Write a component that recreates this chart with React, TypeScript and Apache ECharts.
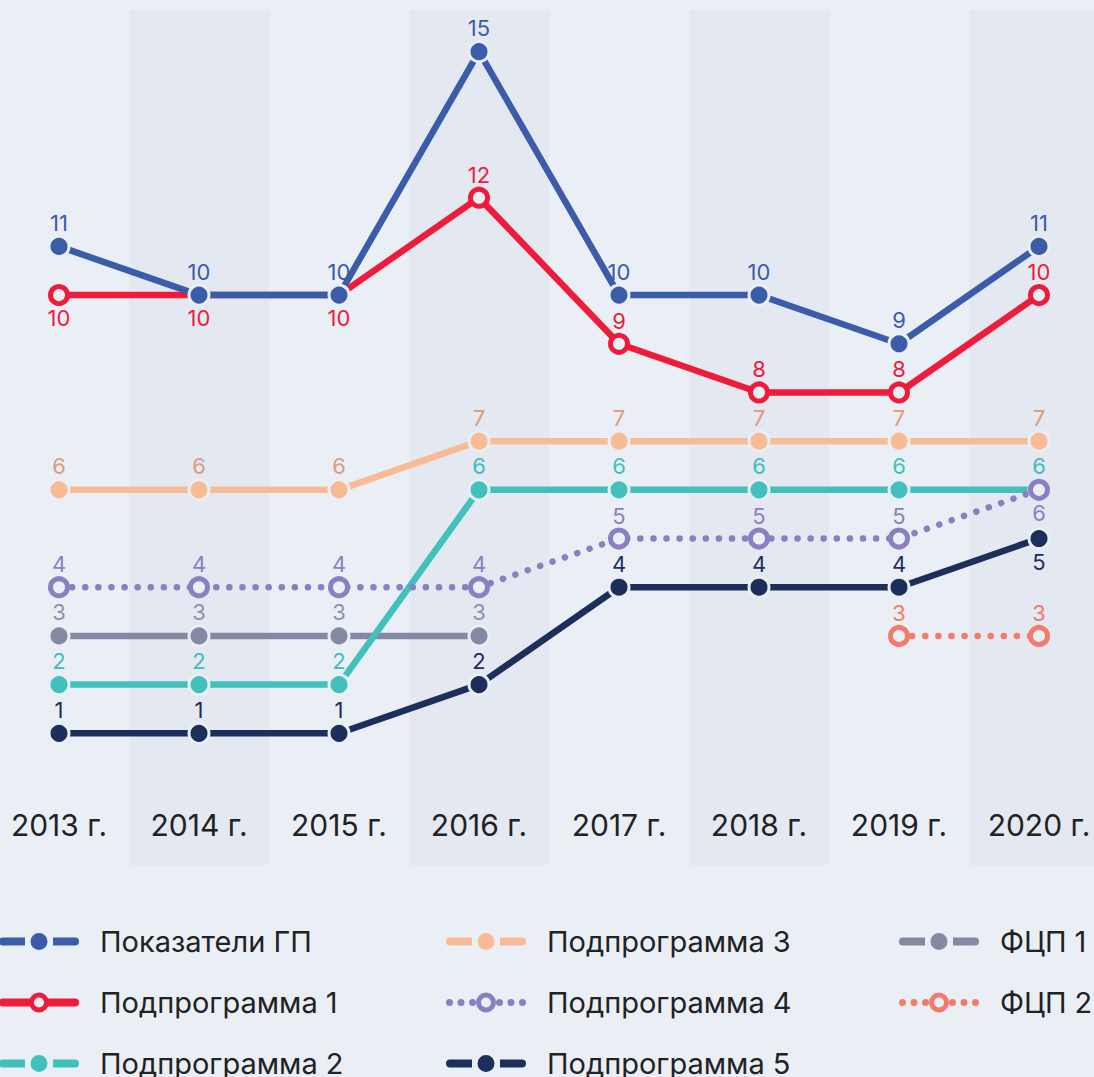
import React, { useEffect, useRef } from "react";
import * as echarts from "echarts";

const categories = ["2013 г.", "2014 г.", "2015 г.", "2016 г.", "2017 г.", "2018 г.", "2019 г.", "2020 г."];
const gpValues = [11, 10, 10, 15, 10, 10, 9, 11];
const sub1Values = [10, 10, 10, 12, 9, 8, 8, 10];
const sub2Values = [2, 2, 2, 6, 6, 6, 6, 6];
const sub3Values = [6, 6, 6, 7, 7, 7, 7, 7];
const sub4Values = [4, 4, 4, 4, 5, 5, 5, 6];
const sub5Values = [1, 1, 1, 2, 4, 4, 4, 5];
const fcp1Values: (number | null)[] = [3, 3, 3, 3, null, null, null, null];
const fcp2Values: (number | null)[] = [null, null, null, null, null, null, 3, 3];

const BG = "#eaeff6";
const BAND = "#e3e8f1";
const FONT = "Inter";
const CHART_H = 1150;

const C = {
  gp: "#3a5ca9",
  s1: "#ee1b3a",
  s2: "#41c0bc",
  s3: "#f9bb96",
  s4: "#8a7fc0",
  s5: "#1b2f5a",
  f1: "#8389a3",
  f2: "#f47a6b",
};

function circ(cx: number, cy: number, r: number, ccw = false) {
  const s = ccw ? 0 : 1;
  return `M${cx - r},${cy} A${r},${r} 0 1 ${s} ${cx + r},${cy} A${r},${r} 0 1 ${s} ${cx - r},${cy} Z `;
}

// legend icons, drawn in an 80 x 24 box
const ICON_FILLED =
  "path://M4,8 L26,8 L26,16 L4,16 A4,4 0 0 1 4,8 Z " +
  circ(40, 12, 8.5) +
  "M54,8 L76,8 A4,4 0 0 1 76,16 L54,16 Z";
const ICON_HOLLOW =
  "path://M4,8 L33,8 L33,16 L4,16 A4,4 0 0 1 4,8 Z " +
  circ(40, 12, 10) +
  circ(40, 12, 5, true) +
  "M47,8 L76,8 A4,4 0 0 1 76,16 L47,16 Z";
const ICON_DOTTED =
  "path://" +
  circ(3.5, 12, 3.5) +
  circ(15, 12, 3.5) +
  circ(26.5, 12, 3.5) +
  circ(40, 12, 10) +
  circ(40, 12, 5, true) +
  circ(53.5, 12, 3.5) +
  circ(65, 12, 3.5) +
  circ(76.5, 12, 3.5);

function makeSeries(
  name: string,
  values: (number | null)[],
  color: string,
  labelColor: string,
  hollow: boolean,
  dotted: boolean,
  bottomIdx: number[]
) {
  return {
    name,
    type: "line",
    data: values.map((v, i) =>
      v === null
        ? "-"
        : { value: v, label: { position: bottomIdx.includes(i) ? "bottom" : "top" } }
    ),
    symbol: "circle",
    symbolSize: hollow ? 17 : 20,
    showAllSymbol: true,
    connectNulls: false,
    lineStyle: {
      color,
      width: 6.5,
      type: dotted ? [0.1, 13] : "solid",
      cap: "round",
    },
    itemStyle: hollow
      ? { color: BG, borderColor: color, borderWidth: 5 }
      : { color, borderColor: BG, borderWidth: 3 },
    label: {
      show: true,
      color: labelColor,
      fontSize: 22,
      fontFamily: FONT,
      distance: 1,
    },
    emphasis: { disabled: true },
  };
}

function legendItem(name: string, color: string, kind: "filled" | "hollow" | "dotted") {
  return {
    name,
    icon: kind === "filled" ? ICON_FILLED : kind === "hollow" ? ICON_HOLLOW : ICON_DOTTED,
    itemStyle: { color, borderWidth: 0, opacity: 1 },
  };
}

export default function App() {
  const ref = useRef<HTMLDivElement>(null);
  useEffect(() => {
    if (!ref.current) return;
    const chart = echarts.init(ref.current, null, { renderer: "svg" });
    const legendBase = {
      orient: "vertical",
      top: 927,
      padding: 0,
      itemWidth: 80,
      itemHeight: 24,
      itemGap: 32,
      textStyle: {
        fontSize: 29,
        fontFamily: FONT,
        color: "#222",
        padding: [0, 0, 0, 16],
      },
      selectedMode: false,
    };
    chart.setOption({
      animation: false,
      backgroundColor: BG,
      grid: {
        left: -11,
        right: -15,
        top: 10,
        bottom: CHART_H - 865,
        containLabel: false,
        outerBoundsMode: "none",
      },
      xAxis: {
        type: "category",
        data: categories,
        boundaryGap: true,
        axisLine: { show: false },
        axisTick: { show: false },
        splitLine: { show: false },
        splitArea: { show: true, areaStyle: { color: ["rgba(0,0,0,0)", BAND] } },
        axisLabel: { inside: true, margin: 25, fontSize: 30, fontFamily: FONT, color: "#222" },
      },
      yAxis: {
        type: "value",
        min: -1.705,
        max: 15.855,
        show: false,
        splitLine: { show: false },
      },
      legend: [
        {
          ...legendBase,
          left: -1,
          data: [
            legendItem("Показатели ГП", C.gp, "filled"),
            legendItem("Подпрограмма 1", C.s1, "hollow"),
            legendItem("Подпрограмма 2", C.s2, "filled"),
          ],
        },
        {
          ...legendBase,
          left: 446,
          data: [
            legendItem("Подпрограмма 3", C.s3, "filled"),
            legendItem("Подпрограмма 4", C.s4, "dotted"),
            legendItem("Подпрограмма 5", C.s5, "filled"),
          ],
        },
        {
          ...legendBase,
          left: 899,
          data: [legendItem("ФЦП 1", C.f1, "filled"), legendItem("ФЦП 2", C.f2, "dotted")],
        },
      ],
      series: [
        makeSeries("ФЦП 2", fcp2Values, C.f2, "#f27a6a", true, true, []),
        makeSeries("ФЦП 1", fcp1Values, C.f1, "#8e93ab", false, false, []),
        makeSeries("Подпрограмма 5", sub5Values, C.s5, C.s5, false, false, [7]),
        makeSeries("Подпрограмма 2", sub2Values, C.s2, "#3fbfba", false, false, []),
        makeSeries("Подпрограмма 4", sub4Values, C.s4, "#8a80c0", true, true, [7]),
        makeSeries("Подпрограмма 3", sub3Values, C.s3, "#dc9b7c", false, false, []),
        makeSeries("Подпрограмма 1", sub1Values, C.s1, C.s1, true, false, [0, 1, 2]),
        makeSeries("Показатели ГП", gpValues, C.gp, C.gp, false, false, []),
      ],
    });
    return () => chart.dispose();
  }, []);
  return (
    <div
      style={{
        position: "fixed",
        left: 0,
        top: 0,
        width: 1094,
        height: 1077,
        overflow: "hidden",
        background: BG,
      }}
    >
      <div ref={ref} style={{ position: "absolute", left: 0, top: 0, width: 1094, height: CHART_H }} />
    </div>
  );
}
